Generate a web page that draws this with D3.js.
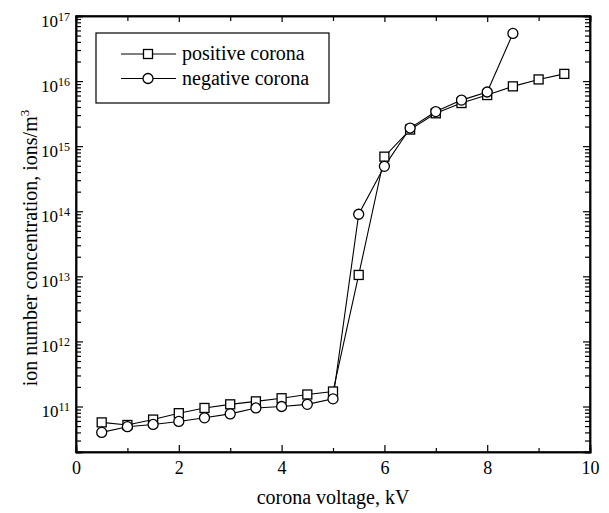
<!DOCTYPE html>
<html>
<head>
<meta charset="utf-8">
<script src="https://cdn.jsdelivr.net/npm/d3@7"></script>
<style>
  body { margin: 0; background: #fff; }
  svg text { font-family: "Liberation Serif", "Times New Roman", serif; fill: #000; }
  .axis path, .axis line { stroke: #000; }
  .axis path { stroke-width: 1.5; }
  .axis line { stroke-width: 1.2; }
</style>
</head>
<body>
<div id="chart"></div>
<script>

// voltage steps, kV
let voltage = [0.5, 1, 1.5, 2, 2.5, 3, 3.5, 4, 4.5, 5, 5.5, 6, 6.5, 7, 7.5, 8, 8.5, 9, 9.5];

// ion number concentration, ions/m^3
let positiveCorona = [5.7e10, 5.2e10, 6.3e10, 7.9e10, 9.5e10, 1.08e11, 1.2e11, 1.34e11, 1.53e11, 1.7e11,
  1.05e13, 6.9e14, 1.8e15, 3.2e15, 4.6e15, 6.1e15, 8.3e15, 1.06e16, 1.29e16];
let negativeCorona = [4.0e10, 4.9e10, 5.3e10, 5.9e10, 6.7e10, 7.7e10, 9.5e10, 1.0e11, 1.08e11, 1.31e11,
  9.0e13, 4.9e14, 1.9e15, 3.4e15, 5.1e15, 6.8e15, 5.4e16];

let seriesNames = ["positive corona", "negative corona"];
let xTickValues = [0, 2, 4, 6, 8, 10];
let xMinorValues = [1, 3, 5, 7, 9];
let yExponents = [11, 12, 13, 14, 15, 16, 17];

let width = 609, height = 513;
let margin = { top: 16, left: 76, right: 19, bottom: 61 };
let chartWidth = width - margin.left - margin.right;
let chartHeight = height - margin.top - margin.bottom;

let xPositionScale = d3.scaleLinear()
  .domain([0, 10])
  .range([0, chartWidth]);

let yPositionScale = d3.scaleLog()
  .domain([2.0e10, 1e17])
  .range([chartHeight, 0]);

let svg = d3.select("#chart")
  .append("svg")
  .attr("width", width)
  .attr("height", height);

let chart = svg.append("g")
  .attr("transform", "translate(" + margin.left + "," + margin.top + ")");

// minor ticks of the log axis: 2..9 x each decade inside the domain
let yMajor = yExponents.map(e => Math.pow(10, e));
let yMinor = [];
for (let e = 10; e <= 16; e++) {
  for (let m = 2; m <= 9; m++) {
    let v = m * Math.pow(10, e);
    if (v >= yPositionScale.domain()[0] && v <= yPositionScale.domain()[1]) yMinor.push(v);
  }
}

// ---- axes ----
// bottom
chart.append("g")
  .attr("class", "axis")
  .attr("transform", "translate(0," + chartHeight + ")")
  .call(d3.axisBottom(xPositionScale).tickValues(xMinorValues).tickSize(-4).tickFormat(""));
chart.append("g")
  .attr("class", "axis x-axis")
  .attr("transform", "translate(0," + chartHeight + ")")
  .call(d3.axisBottom(xPositionScale).tickValues(xTickValues).tickSize(-7).tickPadding(9).tickFormat(d3.format("d")));

// top
chart.append("g")
  .attr("class", "axis")
  .call(d3.axisTop(xPositionScale).tickValues(xMinorValues).tickSize(-5).tickFormat(""));
chart.append("g")
  .attr("class", "axis")
  .call(d3.axisTop(xPositionScale).tickValues(xTickValues).tickSize(-6).tickFormat(""));

// left
chart.append("g")
  .attr("class", "axis")
  .call(d3.axisLeft(yPositionScale).tickValues(yMinor).tickSize(-5).tickFormat(""));
let yAxisG = chart.append("g")
  .attr("class", "axis y-axis")
  .call(d3.axisLeft(yPositionScale).tickValues(yMajor).tickSize(-7).tickPadding(12).tickFormat(""));

// right
chart.append("g")
  .attr("class", "axis")
  .attr("transform", "translate(" + chartWidth + ",0)")
  .call(d3.axisRight(yPositionScale).tickValues(yMinor).tickSize(-5).tickFormat(""));
chart.append("g")
  .attr("class", "axis")
  .attr("transform", "translate(" + chartWidth + ",0)")
  .call(d3.axisRight(yPositionScale).tickValues(yMajor).tickSize(-7).tickFormat(""));

// tick label sizes
chart.selectAll(".x-axis .tick text")
  .attr("font-size", 18)
  .attr("font-family", "Liberation Serif");

// y labels as 10 with superscript exponent
yAxisG.selectAll(".tick text")
  .attr("font-size", 17)
  .attr("font-family", "Liberation Serif")
  .attr("x", -6)
  .attr("dy", "0.9em")
  .each(function(d) {
    let t = d3.select(this);
    t.text("");
    t.append("tspan").text("10");
    t.append("tspan")
      .attr("font-size", 12)
      .attr("dy", -6)
      .text(Math.round(Math.log10(d)));
  });
yAxisG.selectAll(".tick text").attr("y", -5);

// frame
chart.append("rect")
  .attr("width", chartWidth)
  .attr("height", chartHeight)
  .attr("fill", "none")
  .attr("stroke", "#000")
  .attr("stroke-width", 1.5);

// ---- lines and markers ----
let posData = voltage.map((v, i) => ({ x: v, y: positiveCorona[i] }));
let negData = voltage.slice(0, negativeCorona.length).map((v, i) => ({ x: v, y: negativeCorona[i] }));

let line = d3.line()
  .x(d => xPositionScale(d.x))
  .y(d => yPositionScale(d.y));

chart.append("path")
  .attr("d", line(posData))
  .attr("fill", "none")
  .attr("stroke", "#000")
  .attr("stroke-width", 1.1);

chart.append("path")
  .attr("d", line(negData))
  .attr("fill", "none")
  .attr("stroke", "#000")
  .attr("stroke-width", 1.1);

let sq = 9;
chart.selectAll(".pos-marker")
  .data(posData)
  .enter().append("rect")
  .attr("class", "pos-marker")
  .attr("x", d => xPositionScale(d.x) - sq / 2)
  .attr("y", d => yPositionScale(d.y) - sq / 2)
  .attr("width", sq)
  .attr("height", sq)
  .attr("fill", "#fff")
  .attr("stroke", "#000")
  .attr("stroke-width", 1.3);

chart.selectAll(".neg-marker")
  .data(negData)
  .enter().append("circle")
  .attr("class", "neg-marker")
  .attr("cx", d => xPositionScale(d.x))
  .attr("cy", d => yPositionScale(d.y))
  .attr("r", 5)
  .attr("fill", "#fff")
  .attr("stroke", "#000")
  .attr("stroke-width", 1.3);

// ---- legend ----
let legend = svg.append("g").attr("transform", "translate(96,33)");
legend.append("rect")
  .attr("width", 233)
  .attr("height", 70)
  .attr("fill", "#fff")
  .attr("stroke", "#000")
  .attr("stroke-width", 1.2);

seriesNames.forEach(function(name, i) {
  let y = 21 + i * 24.5;
  legend.append("line")
    .attr("x1", 25).attr("x2", 80)
    .attr("y1", y).attr("y2", y)
    .attr("stroke", "#000")
    .attr("stroke-width", 1.1);
  if (i === 0) {
    legend.append("rect")
      .attr("x", 52 - 4.5).attr("y", y - 4.5)
      .attr("width", 9).attr("height", 9)
      .attr("fill", "#fff").attr("stroke", "#000").attr("stroke-width", 1.3);
  } else {
    legend.append("circle")
      .attr("cx", 52).attr("cy", y).attr("r", 5)
      .attr("fill", "#fff").attr("stroke", "#000").attr("stroke-width", 1.3);
  }
  legend.append("text")
    .attr("x", 86)
    .attr("y", y + 6)
    .attr("font-size", 20)
    .text(name);
});

// ---- axis titles ----
svg.append("text")
  .attr("x", margin.left + chartWidth / 2)
  .attr("y", 504)
  .attr("text-anchor", "middle")
  .attr("font-size", 20)
  .text("corona voltage, kV");

let yTitle = svg.append("text")
  .attr("transform", "translate(37,248) rotate(-90)")
  .attr("text-anchor", "middle")
  .attr("font-size", 20);
yTitle.append("tspan").text("ion number concentration, ions/m");
yTitle.append("tspan").attr("font-size", 13).attr("dy", -8).text("3");

</script>
</body>
</html>
